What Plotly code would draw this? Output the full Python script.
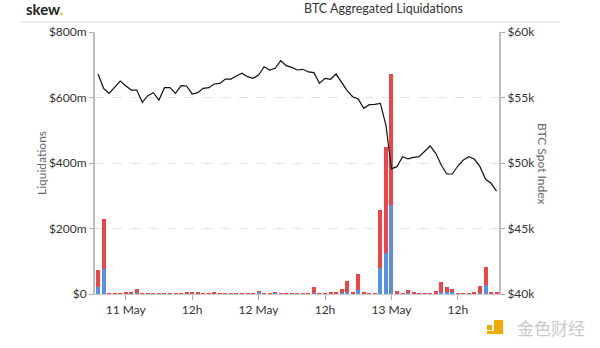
import pandas as pd
import plotly.graph_objects as go

# hourly timestamps, 10 May 19:00 -> 13 May 19:00 (2021)
hours = pd.date_range("2021-05-10 19:00", "2021-05-13 19:00", freq="h")

# liquidations in $m (blue = shorts at bottom, red = longs on top)
blue_liq = [21, 76, 1, 1, 1, 2, 1, 2, 1, 1, 1, 1, 1, 1, 1, 0.5, 1, 2, 2, 1,
            1, 3, 1, 0.5, 0.5, 0.5, 0.5, 0.5, 1, 7, 1, 1, 4, 1, 1, 1, 1, 1, 0.5, 4,
            0.5, 1, 2, 1, 4, 7, 1, 12, 1, 1, 0.5, 78, 126, 272, 3, 1, 3, 2, 1, 0.5,
            1, 3, 6, 5, 5, 1, 1, 1, 1, 4, 27, 2, 2]
red_liq = [52, 153, 1, 1, 2, 4, 3, 12, 1, 1, 2, 1, 1, 1, 1, 1, 4, 5, 2, 1,
           1, 1, 1, 1, 0.5, 0.5, 1, 0.5, 0.5, 2, 1, 1, 2, 2, 1, 1, 1, 1, 0.5, 16,
           0.5, 1, 4, 3, 11, 34, 3, 48, 4, 1, 0.5, 178, 322, 400, 5, 1, 8, 2, 1, 0.5,
           1, 5, 30, 15, 10, 1, 1, 2, 4, 21, 56, 4, 4]

# BTC spot index in $k
btc_spot = [56.79, 55.70, 55.32, 55.75, 56.26,
            55.90, 55.57, 55.57, 54.63, 55.14, 55.37, 54.81, 55.75, 55.75, 55.32, 55.90, 55.88,
            55.27, 55.37, 55.70, 55.75, 56.03, 56.08, 56.41, 56.41, 56.64, 56.85, 56.59, 56.46,
            56.72, 57.35, 57.10, 57.23, 57.81, 57.43, 57.30, 57.10, 57.15, 56.95, 56.90, 56.08,
            56.46, 56.39, 56.79, 56.13, 55.52, 55.06, 54.89, 54.17, 54.45, 54.48, 54.55, 52.90,
            49.55, 49.72, 50.48, 50.31, 50.43, 50.48, 50.86, 51.30, 50.74, 49.85, 49.16, 49.16,
            49.77, 50.23, 50.48, 50.28, 49.72, 48.76, 48.45, 47.86]
btc_spot_usd = [v * 1000 for v in btc_spot]

x_tickvals = ["2021-05-11 00:00", "2021-05-11 12:00", "2021-05-12 00:00",
              "2021-05-12 12:00", "2021-05-13 00:00", "2021-05-13 12:00"]
x_ticktext = ["11 May", "12h", "12 May", "12h", "13 May", "12h"]
y_tickvals = [0, 200, 400, 600, 800]
y_ticktext = ["$0", "$200m", "$400m", "$600m", "$800m"]
y2_tickvals = [40000, 45000, 50000, 55000, 60000]
y2_ticktext = ["$40k", "$45k", "$50k", "$55k", "$60k"]

RED = "#ee4447"
BLUE = "#5a8fe6"
FONT = "Lato"

# pixel helpers for paper coords (plot area: x 95..499, y 32..294)
def px(x):
    return (x - 95) / 404

def py(y):
    return (294 - y) / 262

fig = go.Figure()
fig.add_trace(go.Bar(x=hours, y=blue_liq, marker=dict(color=BLUE, line=dict(width=0)),
                     width=2.6e6, name="Shorts"))
fig.add_trace(go.Bar(x=hours, y=red_liq, marker=dict(color=RED, line=dict(width=0)),
                     width=2.6e6, name="Longs"))
fig.add_trace(go.Scatter(x=hours, y=btc_spot_usd, yaxis="y2", mode="lines",
                         line=dict(color="#111111", width=1.2), name="BTC"))

fig.update_layout(
    width=600, height=348,
    margin=dict(l=95, r=101, t=32, b=54),
    paper_bgcolor="white", plot_bgcolor="white",
    barmode="stack", showlegend=False,
    font=dict(family=FONT, size=12, color="#333333"),
    xaxis=dict(
        type="date",
        range=["2021-05-10 18:27", "2021-05-13 19:26"],
        tickvals=x_tickvals, ticktext=x_ticktext,
        showgrid=False, showline=True, linecolor="#cccccc", linewidth=1,
        ticks="outside", ticklen=5, tickcolor="#aaaaaa",
        tickfont=dict(family=FONT, size=12, color="#333333"),
        zeroline=False,
    ),
    yaxis=dict(
        range=[0, 800], tickvals=y_tickvals, ticktext=y_ticktext,
        showgrid=True, gridcolor="#e2e2e2", griddash="dash", gridwidth=1,
        showline=True, linecolor="#bdbdbd", linewidth=2,
        ticks="outside", ticklen=4, tickcolor="#aaaaaa",
        tickfont=dict(family=FONT, size=12, color="#333333"),
        zeroline=False,
    ),
    yaxis2=dict(
        range=[40000, 60000], tickvals=y2_tickvals, ticktext=y2_ticktext,
        overlaying="y", side="right", showgrid=False,
        showline=True, linecolor="#bdbdbd", linewidth=2,
        ticks="outside", ticklen=4, tickcolor="#aaaaaa",
        tickfont=dict(family=FONT, size=12, color="#333333"),
        zeroline=False,
    ),
)

# header strip line
fig.add_shape(type="line", xref="paper", yref="paper",
              x0=px(20), x1=px(560), y0=py(22), y1=py(22),
              line=dict(color="#dddddd", width=1))

fig.add_annotation(xref="paper", yref="paper", x=px(24), y=py(9),
                   text="<b>skew</b><span style='color:#f5b400'><b>.</b></span>",
                   showarrow=False, xanchor="left", yanchor="middle",
                   font=dict(family=FONT, size=15, color="#222222"))
fig.add_annotation(xref="paper", yref="paper", x=px(383), y=py(8),
                   text="BTC Aggregated Liquidations", showarrow=False,
                   xanchor="center", yanchor="middle",
                   font=dict(family=FONT, size=12.5, color="#333333"))

# axis titles
fig.add_annotation(xref="paper", yref="paper", x=px(41), y=py(163),
                   text="Liquidations", textangle=-90, showarrow=False,
                   xanchor="center", yanchor="middle",
                   font=dict(family=FONT, size=12, color="#666666"))
fig.add_annotation(xref="paper", yref="paper", x=px(543), y=py(163),
                   text="BTC Spot Index", textangle=90, showarrow=False,
                   xanchor="center", yanchor="middle",
                   font=dict(family=FONT, size=12, color="#666666"))

# watermark
fig.add_shape(type="rect", xref="paper", yref="paper",
              x0=px(487), x1=px(492), y0=py(330), y1=py(325),
              line=dict(width=0), fillcolor="#f2a900")
fig.add_shape(type="path", xref="paper", yref="paper",
              path="M {a},{b} L {c},{b} L {c},{d} L {e},{d} L {e},{f} L {a},{f} Z".format(
                  a=px(494), b=py(320), c=px(503), d=py(334), e=px(487), f=py(331)),
              line=dict(width=0), fillcolor="#f2a900")
fig.add_annotation(xref="paper", yref="paper", x=px(551), y=py(327),
                   text="金色财经", showarrow=False, xanchor="center", yanchor="middle",
                   font=dict(family="Noto Sans CJK SC", size=17, color="#c9c9c9"))

fig.write_html("out.html")
